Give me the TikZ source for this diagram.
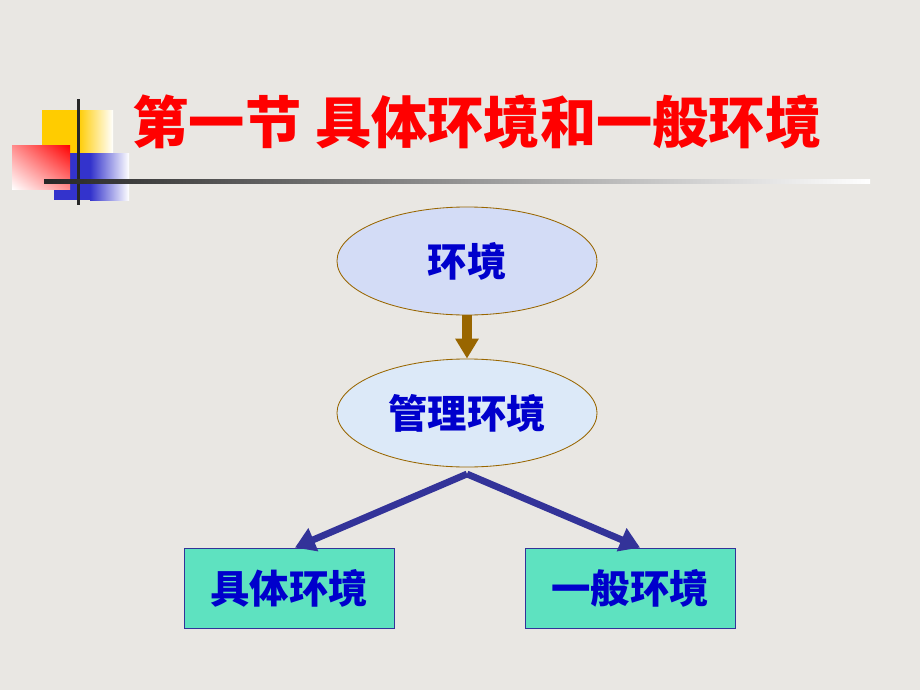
\documentclass[tikz,border=0pt]{standalone}
\usepackage{fontspec}
\usepackage{xcolor}
\usetikzlibrary{shapes.geometric, arrows.meta, positioning, shadings}
\newfontfamily\cjk{Noto Sans CJK SC}
\definecolor{slidebg}{HTML}{E9E7E3}
\definecolor{titlered}{HTML}{FF0000}
\definecolor{nodeblue}{HTML}{0000CC}
\definecolor{linkbrown}{HTML}{996600}
\definecolor{linkblue}{HTML}{333399}
\definecolor{ovalfill}{HTML}{D3DCF6}
\definecolor{ovalfilltwo}{HTML}{DCE9F8}
\definecolor{boxteal}{HTML}{5EE2C0}
\definecolor{decoyellow}{HTML}{FFCC00}
\definecolor{decoblue}{HTML}{3333CC}
\tikzset{
  titletext/.style={font=\cjk\fontsize{40}{44}\selectfont\bfseries},
  oval/.style={ellipse, draw=linkbrown, line width=0.6pt, minimum width=6.5cm,
    minimum height=2.7cm, inner sep=0pt, text=nodeblue,
    font=\cjk\fontsize{28}{32}\selectfont\bfseries},
  envbox/.style={rectangle, draw=linkblue, line width=0.6pt, fill=boxteal,
    minimum width=5.25cm, minimum height=2cm, inner sep=0pt, text=nodeblue,
    font=\cjk\fontsize{28}{32}\selectfont\bfseries},
  brownlink/.style={linkbrown, line width=0.25cm, -{Triangle[width=0.56cm, length=0.5cm]}},
  bluelink/.style={linkblue, line width=0.17cm, -{Triangle[width=0.6cm, length=0.5cm]}}
}

\begin{document}
\begin{tikzpicture}[x=0.025cm, y=-0.025cm]
  % slide background
  \fill[slidebg] (0,0) rectangle (920,690);
  % corner ornament
  \fill[decoyellow] (42,110) rectangle (78,153);
  \shade[left color=decoyellow, right color=white] (78,110) rectangle (113,153);
  \fill[decoblue] (54,153) rectangle (90,200);
  \shade[left color=decoblue, right color=white] (90,153) rectangle (129,200);
  \shade[upper right=red, lower left=white, upper left=red!45!white, lower right=red!45!white]
    (12,145) rectangle (70,189);
  \fill[black!85] (76.5,99) rectangle (79.5,205);
  \shade[left color=black!85, middle color=black!55, right color=white] (44,179.5) rectangle (870,183.5);
  % title
  \node[titletext, text=titlered] (title) at (477,122) {第一节\hspace{0.35cm}具体环境和一般环境};
  % tree
  \node[oval, fill=ovalfill] (env) at (467,261) {环境};
  \node[oval, fill=ovalfilltwo] (mgmt) at (467,413) {管理环境};
  \node[envbox] (spec) at (289,588) {具体环境};
  \node[envbox] (gen) at (630,588) {一般环境};
  \coordinate (fork) at (467,474);
  \draw[brownlink] (env.south) -- (mgmt.north);
  \draw[bluelink] (fork) -- ([xshift=0.15cm]spec.north);
  \draw[bluelink] (fork) -- ([xshift=0.25cm]gen.north);
\end{tikzpicture}
\end{document}
